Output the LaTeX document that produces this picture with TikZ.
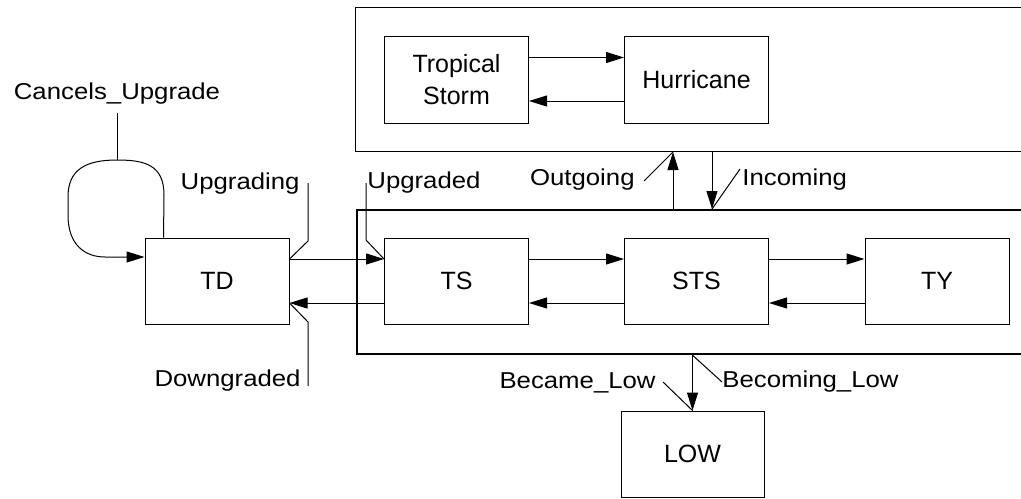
\documentclass[tikz,border=0pt]{standalone}
\usepackage{fontspec}
\setmainfont{Liberation Sans}[FakeStretch=1.12]
\newfontfamily\boxfont{Liberation Sans}
\usetikzlibrary{arrows.meta,calc}
\begin{document}
\begin{tikzpicture}[x=0.5pt,y=-0.5pt,
  every node/.style={font=\fontsize{11.5}{13.5}\selectfont},
  statebox/.style={draw, line width=0.5pt, minimum width=72pt, minimum height=43pt, inner sep=0pt, align=center,
    font=\boxfont\fontsize{12.5}{16}\selectfont},
  arr/.style={line width=0.5pt, -{Triangle[length=9pt,width=5.5pt]}},
  leader/.style={line width=0.5pt},
  lbl/.style={inner sep=0pt}]
\useasboundingbox (0,0) rectangle (1021,498);
\clip (0,0) rectangle (1021,498);
% containers
\node[draw, line width=0.5pt, anchor=north west, minimum width=340pt, minimum height=72pt, inner sep=0pt] (upper) at (355,7) {};
\node[draw, line width=1.1pt, anchor=north west, minimum width=337pt, minimum height=72pt, inner sep=0pt] (lower) at (356,209) {};
% states
\node[statebox] (TD) at (217,281) {TD};
\node[statebox] (TS) at (456.5,281) {TS};
\node[statebox] (STS) at (696.5,281) {STS};
\node[statebox] (TY) at (937,281) {TY};
\node[statebox, minimum height=43.5pt] (TRS) at (456.5,79.5) {Tropical\\Storm};
\node[statebox, minimum height=43.5pt] (HUR) at (696.5,79.5) {Hurricane};
\node[statebox, minimum width=71.5pt, minimum height=43pt] (LOW) at (692.5,454) {LOW};
% horizontal transitions
\draw[arr] ($(TD.east)+(0,-22)$) -- ($(TS.west)+(0,-22)$);
\draw[arr] ($(TS.west)+(0,22)$) -- ($(TD.east)+(0,22)$);
\draw[arr] ($(TS.east)+(0,-22)$) -- ($(STS.west)+(0,-22)$);
\draw[arr] ($(STS.west)+(0,22)$) -- ($(TS.east)+(0,22)$);
\draw[arr] ($(STS.east)+(0,-22)$) -- ($(TY.west)+(0,-22)$);
\draw[arr] ($(TY.west)+(0,22)$) -- ($(STS.east)+(0,22)$);
\draw[arr] ($(TRS.east)+(0,-22)$) -- ($(HUR.west)+(0,-22)$);
\draw[arr] ($(HUR.west)+(0,21.5)$) -- ($(TRS.east)+(0,21.5)$);
% container transitions
\coordinate (outA) at (lower.north west -| 673,0);
\coordinate (outB) at (upper.south west -| 673,0);
\coordinate (inA) at (upper.south west -| 712,0);
\coordinate (inB) at (lower.north west -| 712,0);
\draw[arr] (outA) -- (outB);
\draw[arr] (inA) -- (inB);
\coordinate (lowA) at (lower.south west -| LOW.north);
\draw[arr] (lowA) -- (LOW.north);
% self loop
\coordinate (loopS) at ($(TD.north west)+(19,0)$);
\coordinate (loopE) at ($(TD.west)+(0,-24)$);
\coordinate (loopTop) at (117,160);
\draw[arr] (loopS) -- (164,195) .. controls (164,165) and (145,160) .. (loopTop)
  .. controls (85,160) and (68,170) .. (68,197) -- (68,215)
  .. controls (68,245) and (85,257) .. (105,257) -- (loopE);
% labels
\node[lbl, anchor=base] (lCancel) at (117,99) {Cancels\_Upgrade};
\draw[leader] (loopTop) -- (117,113);
\node[lbl, anchor=base east] (lUpgrading) at (300,189) {Upgrading};
\draw[leader] ($(TD.east)+(0,-22)$) -- (308,241) -- (308,183);
\node[lbl, anchor=base east] (lDown) at (301,386) {Downgraded};
\draw[leader] ($(TD.east)+(0,22)$) -- (308,322) -- (308,386);
\node[lbl, anchor=base west] (lUpgraded) at (367,188) {Upgraded};
\draw[leader] ($(TS.west)+(0,-22)$) -- (366,240) -- (366,183);
\node[lbl, anchor=base east] (lOut) at (635,185) {Outgoing};
\draw[leader] (outB) -- (644,181);
\node[lbl, anchor=base west] (lIn) at (742,185) {Incoming};
\draw[leader] (inB) -- (740,169);
\node[lbl, anchor=base east] (lBecame) at (656,388) {Became\_Low};
\draw[leader] (LOW.north) -- (663,382);
\node[lbl, anchor=base west] (lBecoming) at (722,387) {Becoming\_Low};
\draw[leader] (lowA) -- (722,382);
\end{tikzpicture}
\end{document}
